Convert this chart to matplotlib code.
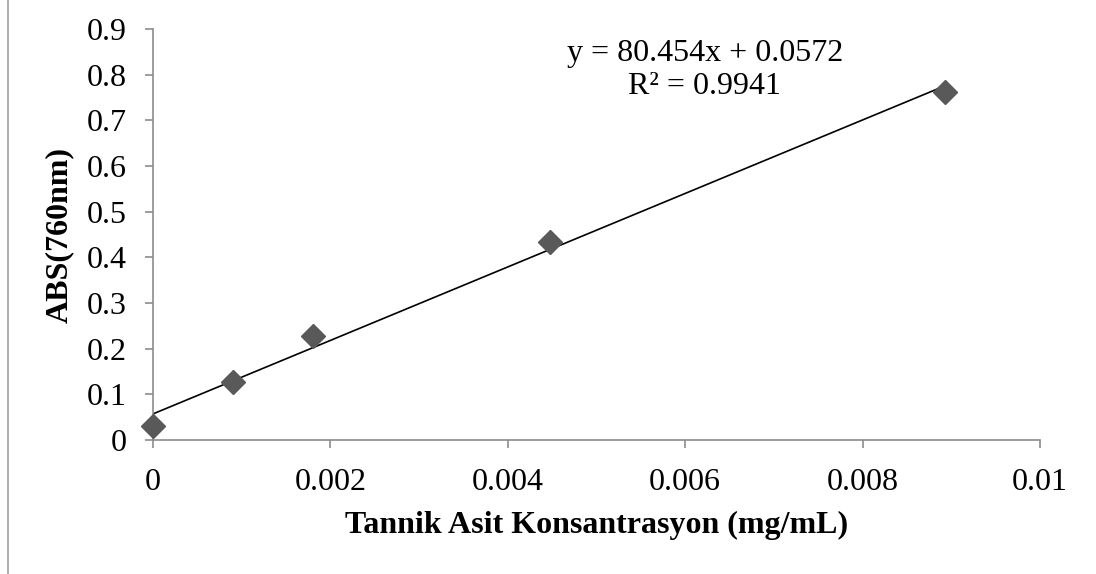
import numpy as np
import matplotlib
matplotlib.use("Agg")
import matplotlib.pyplot as plt
from matplotlib.lines import Line2D

# data
konsantrasyon = [0.0, 0.0009, 0.0018, 0.00448, 0.00893]
absorbans = [0.030, 0.127, 0.228, 0.433, 0.762]
egim = 80.454
kesisim = 0.0572
x_ticks = [0, 0.002, 0.004, 0.006, 0.008, 0.01]
x_tick_labels = ["0", "0.002", "0.004", "0.006", "0.008", "0.01"]
y_ticks = [0, 0.1, 0.2, 0.3, 0.4, 0.5, 0.6, 0.7, 0.8, 0.9]
y_tick_labels = ["0", "0.1", "0.2", "0.3", "0.4", "0.5", "0.6", "0.7", "0.8", "0.9"]

plt.rcParams['font.family'] = ['Liberation Serif', 'DejaVu Serif']

fig = plt.figure(figsize=(10.96, 5.74), dpi=100)
ax = fig.add_axes([0.1396, 0.2334, 0.8093, 0.7161])

# trendline over the data range
xs = np.array([min(konsantrasyon), max(konsantrasyon)])
ax.plot(xs, egim * xs + kesisim, color="black", lw=1.2, zorder=2)

# diamond markers
ax.plot(konsantrasyon, absorbans, linestyle="none", marker="D", markersize=12,
        color="#595959", zorder=3, clip_on=False)

ax.set_xlim(0, 0.01)
ax.set_ylim(0, 0.9)
ax.set_xticks(x_ticks)
ax.set_xticklabels(x_tick_labels)
ax.set_yticks(y_ticks)
ax.set_yticklabels(y_tick_labels)

for s in ["top", "right"]:
    ax.spines[s].set_visible(False)
for s in ["left", "bottom"]:
    ax.spines[s].set_color("#8c8c8c")
    ax.spines[s].set_linewidth(1.2)

ax.tick_params(axis="both", direction="out", length=6, width=1.2,
               color="#8c8c8c", labelsize=23, labelcolor="black")
ax.tick_params(axis="y", pad=13)
ax.tick_params(axis="x", pad=14)

ax.set_xlabel("Tannik Asit Konsantrasyon (mg/mL)", fontsize=23,
              fontweight="bold", labelpad=10)
ax.set_ylabel("ABS(760nm)", fontsize=23, fontweight="bold", labelpad=9)

ax.text(0.622, 0.975, "y = 80.454x + 0.0572\nR² = 0.9941", transform=ax.transAxes,
        ha="center", va="top", fontsize=23, linespacing=1.18)

# left border of the chart frame
fig.add_artist(Line2D([8 / 1096, 8 / 1096], [0, 1], transform=fig.transFigure,
                      color="#a0a0a0", lw=1.2))

fig.savefig("out.png", dpi=100, facecolor="white")
